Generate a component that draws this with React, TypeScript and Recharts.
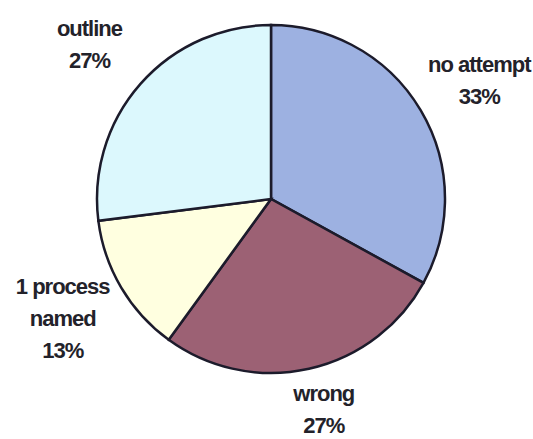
import { PieChart, Pie, Cell } from 'recharts'

const categories = ['no attempt', 'wrong', '1 process\nnamed', 'outline']
const shares = [33, 27, 13, 27]
const colors = ['#9db1e1', '#9c6174', '#ffffe0', '#dcf8fd']

const data = categories.map((name, i) => ({ name, value: shares[i] }))

const RADIAN = Math.PI / 180
const HEIGHT = 439

function renderLabel(props: any) {
  const { cx, cy, midAngle, outerRadius, name, value } = props
  const rx = outerRadius + 68
  const ry = outerRadius + 60
  const x = cx + rx * Math.cos(-midAngle * RADIAN)
  const lines = [...String(name).split('\n'), `${value}%`]
  const lineH = 32
  const half = ((lines.length - 1) * lineH) / 2
  // keep the block inside the picture
  const y = Math.min(cy + ry * Math.sin(-midAngle * RADIAN), HEIGHT - half - 14)
  const top = y - half
  return (
    <text
      x={x}
      y={top}
      textAnchor="middle"
      dominantBaseline="central"
      fill="#23222a"
      fontFamily="'Liberation Sans', Arial, sans-serif"
      fontWeight="bold"
      fontSize={22}
      letterSpacing={-1}
    >
      {lines.map((line, i) => (
        <tspan key={i} x={x} y={top + i * lineH}>
          {line}
        </tspan>
      ))}
    </text>
  )
}

export default function App() {
  return (
    <div style={{ position: 'absolute', left: 0, top: 0, width: 533, height: HEIGHT, background: '#fff' }}>
      <PieChart width={533} height={HEIGHT}>
        <Pie
          data={data}
          dataKey="value"
          nameKey="name"
          cx={266}
          cy={194}
          outerRadius={174}
          startAngle={90}
          endAngle={-270}
          stroke="#1c1b2b"
          strokeWidth={2.5}
          label={renderLabel}
          labelLine={false}
          isAnimationActive={false}
        >
          {data.map((_, i) => (
            <Cell key={`cell-${i}`} fill={colors[i]} />
          ))}
        </Pie>
      </PieChart>
    </div>
  )
}
